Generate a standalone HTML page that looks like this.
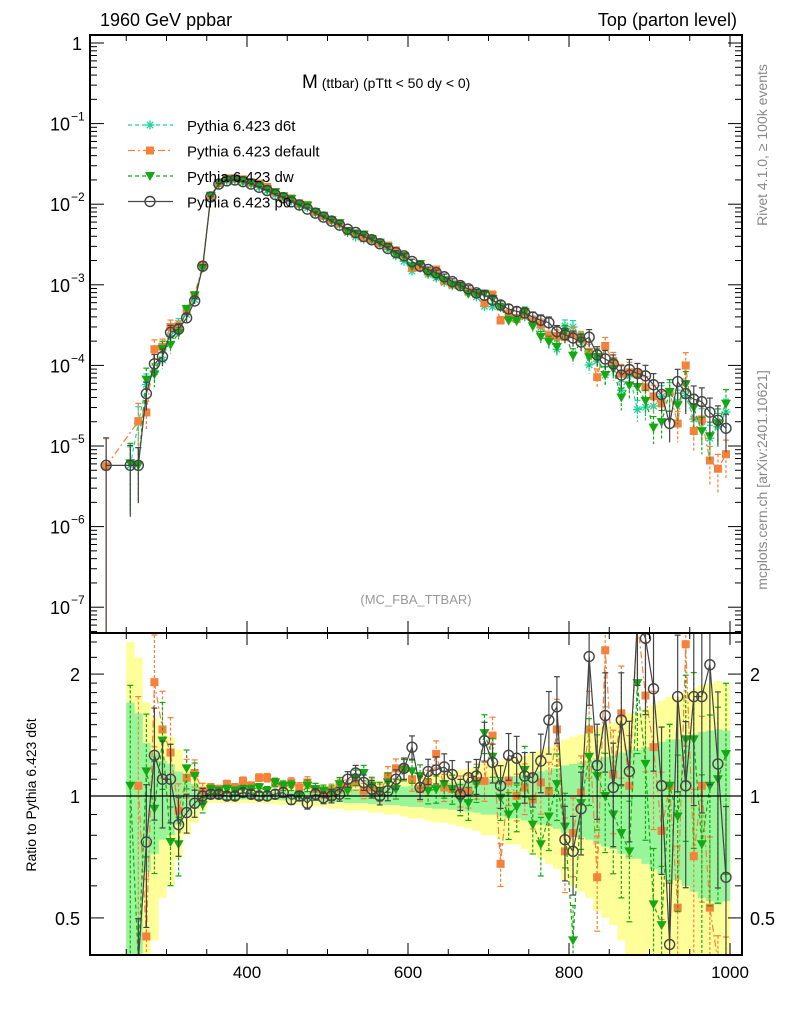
<!DOCTYPE html>
<html><head><meta charset="utf-8"><style>
html,body{margin:0;padding:0;background:#fff;width:786px;height:1024px;overflow:hidden;}
svg{display:block;font-family:"Liberation Sans",sans-serif;}
</style></head><body>
<svg id="chart" width="786" height="1024" viewBox="0 0 786 1024" xmlns="http://www.w3.org/2000/svg">
<defs>
<clipPath id="cm"><rect x="90" y="35" width="652" height="598"/></clipPath>
<clipPath id="cr"><rect x="90" y="633" width="652" height="322"/></clipPath>
</defs>
<text x="100" y="26" font-size="18">1960 GeV ppbar</text>
<text x="737" y="26" font-size="18" text-anchor="end">Top (parton level)</text>
<text x="302" y="88" font-size="19">M<tspan font-size="14"> (ttbar) (pTtt &lt; 50 dy &lt; 0)</tspan></text>
<text x="416" y="604" font-size="13" fill="#999" text-anchor="middle">(MC_FBA_TTBAR)</text>
<text transform="translate(767,145) rotate(-90)" font-size="14" fill="#888" text-anchor="middle">Rivet 4.1.0, ≥ 100k events</text>
<text transform="translate(767,480) rotate(-90)" font-size="14" fill="#888" text-anchor="middle">mcplots.cern.ch [arXiv:2401.10621]</text>
<text transform="translate(36,795) rotate(-90)" font-size="14" text-anchor="middle">Ratio to Pythia 6.423 d6t</text>
<g id="bands" clip-path="url(#cr)"></g>
<g id="ratioG" clip-path="url(#cr)"></g>
<g id="mainG" clip-path="url(#cm)"></g>
<g id="axes"></g>
<g id="legend"></g>
</svg>
<script>
const mass=[255,265,275,285,295,305,315,325,335,345,355,365,375,385,395,405,415,425,435,445,455,465,475,485,495,505,515,525,535,545,555,565,575,585,595,605,615,625,635,645,655,665,675,685,695,705,715,725,735,745,755,765,775,785,795,805,815,825,835,845,855,865,875,885,895,905,915,925,935,945,955,965,975,985,995];
const p0Log=[-5.24,-5.24,-4.35,-3.98,-3.89,-3.59,-3.55,-3.41,-3.20,-2.77,
-1.91,-1.75,-1.71,-1.70,-1.72,-1.75,-1.79,-1.83,-1.88,-1.92,
-1.97,-2.01,-2.06,-2.11,-2.16,-2.21,-2.26,-2.31,-2.35,-2.40,
-2.44,-2.49,-2.55,-2.60,-2.64,-2.71,-2.77,-2.81,-2.85,-2.90,
-2.96,-3.01,-3.05,-3.10,-3.13,-3.19,-3.25,-3.30,-3.33,-3.35,
-3.40,-3.44,-3.47,-3.58,-3.62,-3.66,-3.71,-3.65,-3.87,-3.92,
-3.98,-4.12,-4.05,-4.10,-4.13,-4.24,-4.36,-4.72,-4.20,-4.35,
-4.42,-4.45,-4.58,-4.68,-4.78];
const ratioP0=[null,0.3,0.77,1.26,1.10,1.10,0.85,0.91,0.96,1.0,
1.01,1.01,1.0,1.0,1.02,1.01,1.0,1.0,1.01,1.02,
0.98,1.0,0.96,1.01,0.99,1.0,1.01,1.10,1.14,1.08,
1.04,1.0,1.03,1.10,1.17,1.32,1.05,1.15,1.16,1.18,
1.13,1.01,1.11,1.12,1.37,1.21,1.06,1.26,1.24,1.12,
1.11,1.22,1.54,1.66,0.78,0.73,0.93,2.21,1.19,1.58,
1.05,1.54,1.15,2.8,2.45,1.84,1.06,0.43,1.76,1.06,
1.76,1.76,2.11,1.2,0.63];
const ratioDefault=[null,1.06,0.45,1.91,1.46,1.28,0.92,1.11,1.14,1.03,
1.05,1.04,1.07,1.05,1.09,1.06,1.11,1.11,1.08,1.06,
1.08,1.05,1.08,1.04,1.02,1.03,1.06,1.05,1.08,1.03,
1.05,1.02,1.12,1.17,1.17,1.10,1.04,1.08,1.27,1.05,
1.04,1.03,1.03,1.09,1.09,1.41,0.68,1.09,1.0,1.05,
0.98,1.08,1.03,1.46,0.73,0.81,1.02,1.46,0.63,2.29,
1.13,1.6,1.06,2.8,1.77,1.32,0.82,1.06,0.53,2.37,
0.71,1.06,0.53,0.3,0.3];
const ratioDw=[1.06,0.3,1.15,0.93,1.37,0.77,0.76,1.17,1.12,0.95,
1.04,1.03,1.04,1.03,1.04,1.04,1.05,1.03,1.08,1.06,
1.06,1.0,1.06,1.04,1.03,1.02,1.07,1.03,1.11,1.14,
1.06,1.03,1.08,1.04,1.16,1.15,1.12,1.03,1.04,1.07,
1.04,0.98,0.96,1.07,1.43,1.25,0.99,0.9,0.94,1.16,
0.85,0.76,0.89,1.07,0.84,0.44,0.96,1.25,1.12,1.0,
0.9,0.81,0.73,1.9,1.2,0.54,0.48,1.06,0.89,1.38,
1.38,0.76,1.06,1.1,1.27];
const relErr=[0.7,0.6,0.35,0.28,0.22,0.2,0.15,0.1,0.07,0.04,
0.02,0.02,0.02,0.02,0.02,0.02,0.02,0.022,0.022,0.025,
0.025,0.025,0.03,0.03,0.03,0.035,0.035,0.04,0.04,0.04,
0.045,0.045,0.05,0.05,0.055,0.06,0.06,0.065,0.07,0.07,
0.075,0.08,0.085,0.09,0.1,0.1,0.11,0.12,0.12,0.13,
0.14,0.15,0.16,0.17,0.19,0.2,0.21,0.22,0.24,0.25,
0.26,0.28,0.3,0.3,0.32,0.34,0.36,0.38,0.38,0.4,
0.42,0.44,0.45,0.46,0.45];
const extraMass=[225];
const extraDefault=[5.6e-6];
const xTicks=[400,600,800,1000];
const yMainTicks=[0,-1,-2,-3,-4,-5,-6,-7];
const yMainLabels=["1","10","10","10","10","10","10","10"];
const ratioTicks=[2,1,0.5];
const ratioLabels=["2","1","0.5"];

const NS="http://www.w3.org/2000/svg";
function X(m){return 247+(m-400)*0.805;}
function YM(v){return Math.max(20,Math.min(640,43-Math.log10(v)*80.6));}
function YR(r){return Math.max(620,Math.min(962,796-Math.log10(r)*405));}
function mk(tag,attrs,parent){const e=document.createElementNS(NS,tag);for(const k in attrs)e.setAttribute(k,attrs[k]);parent.appendChild(e);return e;}
const mainG=document.getElementById('mainG'),ratioG=document.getElementById('ratioG'),bands=document.getElementById('bands'),axes=document.getElementById('axes'),legend=document.getElementById('legend');

const p0=p0Log.map(v=>Math.pow(10,v));
const d6t=p0.map((v,i)=>ratioP0[i]?v/ratioP0[i]:v);
const def=d6t.map((v,i)=>ratioDefault[i]==null?null:v*ratioDefault[i]);
const dw=d6t.map((v,i)=>v*ratioDw[i]);
const ones=mass.map(()=>1);

function marker(g,type,x,y,col){
  if(type==='star'){for(let a=0;a<4;a++){const t=a*Math.PI/4;mk('line',{x1:x-4.5*Math.cos(t),y1:y-4.5*Math.sin(t),x2:x+4.5*Math.cos(t),y2:y+4.5*Math.sin(t),stroke:col,'stroke-width':1.3},g);}}
  else if(type==='sq'){mk('rect',{x:x-4,y:y-4,width:8,height:8,fill:col},g);}
  else if(type==='tri'){mk('polygon',{points:`${x-5},${y-4} ${x+5},${y-4} ${x},${y+5}`,fill:col},g);}
  else {mk('circle',{cx:x,cy:y,r:5,fill:'none',stroke:col,'stroke-width':1.4},g);}
}
const series=[
 {name:'d6t',vals:d6t,rat:ones,col:'#1fd49b',m:'star',dash:'4,3',label:'Pythia 6.423 d6t'},
 {name:'default',vals:def,rat:ratioDefault,col:'#f5813a',m:'sq',dash:'7,3,2,3',label:'Pythia 6.423 default'},
 {name:'dw',vals:dw,rat:ratioDw,col:'#14a814',m:'tri',dash:'4,3',label:'Pythia 6.423 dw'},
 {name:'p0',vals:p0,rat:ratioP0,col:'#444',m:'circ',dash:'',label:'Pythia 6.423 p0'}
];

mass.forEach((m,i)=>{
  const e=relErr[i];
  const y=mk('rect',{x:X(m-5),width:0.805*10+0.3,y:YR(1+2*e),height:YR(Math.max(1-2*e,0.01))-YR(1+2*e),fill:'#ffff99'},bands);
  
  
});
mass.forEach((m,i)=>{
  const e=relErr[i];
  const g=mk('rect',{x:X(m-5),width:0.805*10+0.3,y:YR(1+e),height:YR(1-e)-YR(1+e),fill:'#99f599'},bands);
  
  
});

series.forEach(s=>{
  const gm=mk('g',{},mainG);
  
  
  let pts=[];
  if(s.name==='default'){extraMass.forEach((m,i)=>pts.push([X(m),YM(extraDefault[i])]));}
  if(s.name==='p0'){pts.push([X(225),YM(p0[0])]);}
  mass.forEach((m,i)=>{if(s.vals[i]!=null)pts.push([X(m),YM(s.vals[i])]);});
  mk('polyline',{points:pts.map(p=>p.join(',')).join(' '),fill:'none',stroke:s.col,'stroke-width':1.2,'stroke-dasharray':s.dash},gm);
  mass.forEach((m,i)=>{
    const v=s.vals[i];if(v==null)return;
    const e=relErr[i]*(s.name==='d6t'?1:1.1),x=X(m);
    const y1=YM(v*(1+e)),y2=YM(Math.max(v*(1-e),1e-9));
    mk('line',{x1:x,x2:x,y1:y1,y2:y2,stroke:s.col,'stroke-width':1.2,'stroke-dasharray':s.dash?'3,2':''},gm);
    mk('line',{x1:x-3,x2:x+3,y1:y1,y2:y1,stroke:s.col,'stroke-width':1.2},gm);
    marker(gm,s.m,x,YM(v),s.col);
  });
  if(s.name==='default'){extraMass.forEach((m,i)=>{const x=X(m),v=extraDefault[i];mk('line',{x1:x,x2:x,y1:YM(v*2.2),y2:638,stroke:s.col,'stroke-width':1.2},gm);mk('line',{x1:x-3,x2:x+3,y1:YM(v*2.2),y2:YM(v*2.2),stroke:s.col},gm);marker(gm,'sq',x,YM(v),s.col);});}
  if(s.name==='p0'){const x=X(225);mk('line',{x1:x,x2:x,y1:YM(p0[0]*2.2),y2:638,stroke:s.col,'stroke-width':1.2},gm);mk('line',{x1:x-3,x2:x+3,y1:YM(p0[0]*2.2),y2:YM(p0[0]*2.2),stroke:s.col},gm);marker(gm,'circ',x,YM(p0[0]),s.col);}
  if(s.name==='d6t') return;
  const gr=mk('g',{},ratioG);
  
  
  const rp=[];
  mass.forEach((m,i)=>{if(s.rat[i]!=null)rp.push(X(m)+','+YR(s.rat[i]));});
  mk('polyline',{points:rp.join(' '),fill:'none',stroke:s.col,'stroke-width':1.2,'stroke-dasharray':s.dash},gr);
  mass.forEach((m,i)=>{
    const r=s.rat[i];if(r==null)return;
    const e=relErr[i]*1.1,x=X(m);
    const y1=YR(r*(1+e)),y2=YR(Math.max(r*(1-e),0.05));
    mk('line',{x1:x,x2:x,y1:y1,y2:y2,stroke:s.col,'stroke-width':1.2,'stroke-dasharray':s.dash?'3,2':''},gr);
    mk('line',{x1:x-3,x2:x+3,y1:y1,y2:y1,stroke:s.col,'stroke-width':1.2},gr);
    mk('line',{x1:x-3,x2:x+3,y1:y2,y2:y2,stroke:s.col,'stroke-width':1.2},gr);
    marker(gr,s.m,x,YR(r),s.col);
  });
});
const refLine=mk('line',{x1:90,x2:742,y1:YR(1),y2:YR(1),stroke:'#000','stroke-width':1.3},ratioG);



[[35,598],[633,322]].forEach(([y,h],k)=>{
  const f=mk('rect',{x:90,y:y,width:652,height:h,fill:'none',stroke:'#000','stroke-width':2},axes);
  
  
});
for(let m=250;m<=1000;m+=50){
  const x=X(m),maj=(m%200===0);const L=maj?12:6;
  [[35,1],[633,-1],[633,1],[955,-1]].forEach(([y,d])=>mk('line',{x1:x,x2:x,y1:y,y2:y+d*L,stroke:'#000','stroke-width':1},axes));
}
xTicks.forEach(m=>{const t=mk('text',{x:X(m),y:978,'font-size':17,'text-anchor':'middle'},axes);t.textContent=m;
 
 });
yMainTicks.forEach((d,i)=>{
  const y=43-d*-80.6*-1;
  mk('line',{x1:90,x2:104,y1:y,y2:y,stroke:'#000'},axes);mk('line',{x1:742,x2:728,y1:y,y2:y,stroke:'#000'},axes);
  for(let k=2;k<10;k++){const yy=43-Math.log10(k*Math.pow(10,d-1))*80.6;if(yy<36||yy>632)continue;mk('line',{x1:90,x2:97,y1:yy,y2:yy,stroke:'#000'},axes);mk('line',{x1:742,x2:735,y1:yy,y2:yy,stroke:'#000'},axes);}
  const t=mk('text',{x:d===0?82:70,y:y+7,'font-size':18,'text-anchor':'end'},axes);
  
  
  t.textContent=yMainLabels[i];
  if(d!==0){const s=mk('text',{x:71,y:y-3,'font-size':12},axes);s.textContent=String(d).replace('-','−');}
});
ratioTicks.forEach((r,i)=>{
  const y=YR(r);
  mk('line',{x1:90,x2:104,y1:y,y2:y,stroke:'#000'},axes);mk('line',{x1:742,x2:728,y1:y,y2:y,stroke:'#000'},axes);
  const t=mk('text',{x:80,y:y+7,'font-size':18,'text-anchor':'end'},axes);t.textContent=ratioLabels[i];
  
  
  const t2=mk('text',{x:750,y:y+7,'font-size':18},axes);t2.textContent=ratioLabels[i];
});
[0.4,0.6,0.7,0.8,0.9,1.1,1.2,1.3,1.4,1.5,1.6,1.7,1.8,1.9,2.2,2.4].forEach(r=>{const y=YR(r);if(y<634||y>954)return;mk('line',{x1:90,x2:97,y1:y,y2:y,stroke:'#000'},axes);mk('line',{x1:742,x2:735,y1:y,y2:y,stroke:'#000'},axes);});
series.forEach((s,i)=>{
  const y=125+i*25.5;
  const g=mk('g',{},legend);
  
  
  mk('line',{x1:128,x2:173,y1:y,y2:y,stroke:s.col,'stroke-width':1.2,'stroke-dasharray':s.dash},g);
  marker(g,s.m,150,y,s.col);
  const t=mk('text',{x:187,y:y+6,'font-size':15},g);t.textContent=s.label;
});
</script>
</body></html>
